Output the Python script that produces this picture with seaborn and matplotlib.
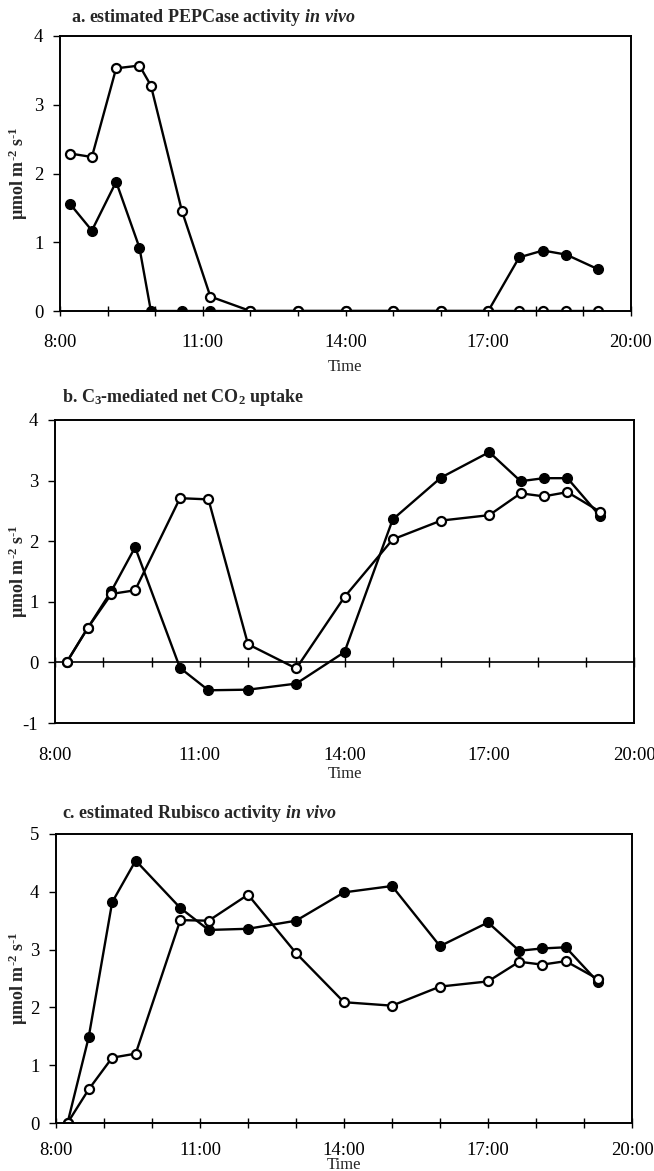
import matplotlib
matplotlib.use('Agg')
import pandas as pd
import seaborn as sns
import matplotlib.pyplot as plt

sns.set_theme(style='white')
plt.rcParams['font.family'] = ['Liberation Serif', 'DejaVu Serif']
plt.rcParams['mathtext.fontset'] = 'custom'
plt.rcParams['mathtext.rm'] = 'Liberation Serif:bold'
plt.rcParams['mathtext.it'] = 'Liberation Serif:bold:italic'
plt.rcParams['mathtext.bf'] = 'Liberation Serif:bold'

# sampling times (decimal hours)
time_a = [8.22, 8.67, 9.18, 9.67, 9.91, 10.56, 11.16, 12, 13, 14, 15, 16, 17,
          17.65, 18.15, 18.64, 19.30]
time_bc = [8.24, 8.68, 9.17, 9.66, 10.59, 11.18, 12, 13, 14, 15, 16, 17,
           17.65, 18.13, 18.62, 19.29]

# a. PEPCase activity
pep_closed = [1.55, 1.17, 1.88, 0.92, 0, 0, 0, 0, 0, 0, 0, 0, 0, 0.78, 0.88, 0.82, 0.61]
pep_open = [2.29, 2.24, 3.53, 3.57, 3.28, 1.46, 0.21, 0, 0, 0, 0, 0, 0, 0, 0, 0, 0]

# b. C3-mediated net CO2 uptake
c3_closed = [0, 0.57, 1.18, 1.90, -0.09, -0.46, -0.45, -0.35, 0.17, 2.36, 3.05, 3.47,
             2.99, 3.04, 3.04, 2.42]
c3_open = [0, 0.57, 1.13, 1.19, 2.71, 2.69, 0.30, -0.10, 1.08, 2.03, 2.34, 2.43,
           2.79, 2.74, 2.81, 2.49]

# c. Rubisco activity
rub_closed = [0, 1.48, 3.82, 4.54, 3.72, 3.34, 3.36, 3.50, 3.99, 4.10, 3.06, 3.47,
              2.98, 3.02, 3.04, 2.44]
rub_open = [0, 0.58, 1.13, 1.20, 3.51, 3.50, 3.95, 2.94, 2.09, 2.03, 2.36, 2.45,
            2.79, 2.74, 2.80, 2.49]

hours = list(range(8, 21))
hour_labels = ['%d:00' % h if (h - 8) % 3 == 0 else '' for h in hours]

W, H = 654, 1171
fig = plt.figure(figsize=(W / 100, H / 100), dpi=100)


def px_axes(l, r, t, b):
    return fig.add_axes([l / W, 1 - b / H, (r - l) / W, (b - t) / H])


def draw(ax, t, closed, opn):
    df = pd.DataFrame({'t': t, 'closed': closed, 'open': opn})
    sns.lineplot(data=df, x='t', y='closed', ax=ax, color='black', lw=1.7,
                 marker='o', ms=7, mfc='black', mec='black', mew=1.0, sort=False)
    sns.lineplot(data=df, x='t', y='open', ax=ax, color='black', lw=1.7,
                 marker='o', ms=6.5, mfc='white', mec='black', mew=1.6, sort=False)


def style(ax, l, r, t, b, ylim, title, tl_x, tl_y, time_y, xpad=12, zero_axis=False):
    ax.set_xlim(8, 20)
    ax.set_ylim(*ylim)
    yt = list(range(ylim[0], ylim[1] + 1))
    ax.set_yticks(yt, labels=[str(v) for v in yt])
    ax.set_xticks(hours, labels=hour_labels)
    for s in ax.spines.values():
        s.set_visible(True)
        s.set_color('black')
        s.set_linewidth(1.4)
    ax.tick_params(axis='y', direction='out', length=5, width=1.0, left=True,
                   labelsize=13.5, pad=7, colors='black')
    ax.tick_params(axis='x', direction='inout', length=7, width=1.0, bottom=True,
                   labelsize=13.5, pad=xpad, colors='black')
    if zero_axis:
        ax.tick_params(axis='x', length=0)
        ax.axhline(0, color='black', lw=1.2, zorder=1)
        frac = (0 - ylim[0]) / (ylim[1] - ylim[0])
        sec = ax.secondary_xaxis(frac)
        sec.set_xticks(hours)
        sec.tick_params(direction='inout', length=7, width=1.0, labelbottom=False,
                        colors='black')
        sec.spines['bottom'].set_visible(False)
    ax.set_xlabel('Time', fontsize=12)
    ax.xaxis.set_label_coords(0.5, -(time_y - 7 - b) / (b - t))
    ax.set_ylabel(r'µmol m$^{\text{-}2}$ s$^{\text{-}1}$', fontsize=13, fontweight='bold')
    ax.yaxis.set_label_coords((30 - l) / (r - l), 0.5)
    fig.text(tl_x / W, 1 - tl_y / H, title, fontsize=13, fontweight='bold',
             ha='left', va='center')


ax_a = px_axes(60, 631, 36, 311)
draw(ax_a, time_a, pep_closed, pep_open)
style(ax_a, 60, 631, 36, 311, (0, 4), r'a. estimated PEPCase activity $in\ vivo$',
      71, 18, 366, xpad=13)

ax_b = px_axes(55, 634, 420, 723)
draw(ax_b, time_bc, c3_closed, c3_open)
style(ax_b, 55, 634, 420, 723, (-1, 4), r'b. C$_3$-mediated net CO$_2$ uptake',
      62, 398, 773, xpad=17, zero_axis=True)

ax_c = px_axes(56, 632, 834, 1123)
draw(ax_c, time_bc, rub_closed, rub_open)
style(ax_c, 56, 632, 834, 1123, (0, 5), r'c. estimated Rubisco activity $in\ vivo$',
      62, 814, 1164, xpad=10)

fig.savefig('out.png', dpi=100)
